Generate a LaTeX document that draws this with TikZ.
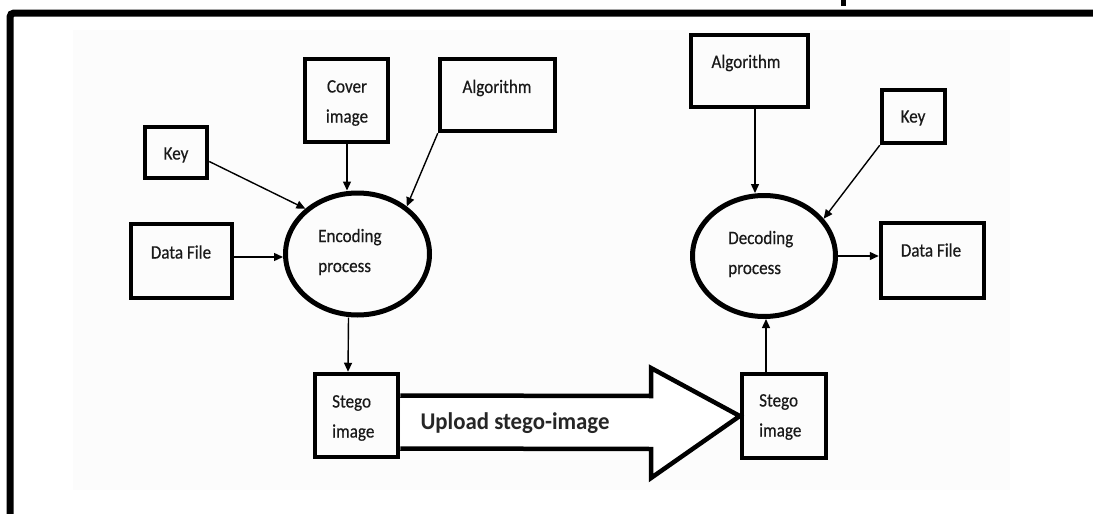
\documentclass[tikz,border=0pt]{standalone}
\usepackage{fontspec}
\newfontfamily\lab[FakeStretch=0.9,FakeBold=0.4]{Carlito}
\newfontfamily\labb[FakeStretch=0.95]{Carlito}
\usetikzlibrary{arrows.meta,shapes.geometric}
\begin{document}
\begin{tikzpicture}[x=1pt,y=-1pt,
  boxn/.style={draw,line width=4.5pt,inner sep=0pt},
  ell/.style={draw,ellipse,line width=5pt,inner sep=0pt},
  txt/.style={font=\lab\fontsize{19}{30}\selectfont,text=black!90,inner sep=0pt,align=center},
  txtl/.style={font=\lab\fontsize{19}{30}\selectfont,text=black!90,inner sep=0pt,align=left,anchor=west},
  arr/.style={line width=1.4pt,-{Triangle[length=9pt,width=8pt]}}]
\useasboundingbox (0,0) rectangle (1093,514);
\fill[white] (0,0) rectangle (1093,514);
\fill[black!1] (73,30) rectangle (1010,490);
% outer frame
\draw[line width=7pt,rounded corners=4pt] (10,514) -- (10,13) -- (1093,13);
\fill (841,0) rectangle (846,6);
% left side
\node[boxn,minimum width=62pt,minimum height=51pt] (kl) at (176,152.5) {};
\node[txt] (klt) at (176,155) {Key};
\node[boxn,minimum width=83pt,minimum height=83pt] (cov) at (346.5,100.5) {};
\node[txt] (covt) at (347,103) {Cover\\image};
\node[boxn,minimum width=115pt,minimum height=72pt] (algl) at (497.5,95) {};
\node[txt] (alglt) at (497,88) {Algorithm};
\node[boxn,minimum width=101pt,minimum height=74pt] (dl) at (181.5,261) {};
\node[txt] (dlt) at (181,252) {Data File};
\node[ell,minimum width=144pt,minimum height=122pt] (enc) at (357.5,254) {};
\node[txtl] (enct) at (318,252) {Encoding\\process};
\node[boxn,minimum width=83pt,minimum height=83pt] (sl) at (356.5,415.5) {};
\node[txtl] (slt) at (332,418) {Stego\\image};
% right side
\node[boxn,minimum width=117pt,minimum height=72pt] (algr) at (749.5,71) {};
\node[txt] (algrt) at (746,63) {Algorithm};
\node[boxn,minimum width=63pt,minimum height=53pt] (kr) at (913.5,116.5) {};
\node[txt] (krt) at (913,118) {Key};
\node[ell,minimum width=143pt,minimum height=121pt] (dec) at (764,256) {};
\node[txtl] (dect) at (728,254) {Decoding\\process};
\node[boxn,minimum width=103pt,minimum height=75pt] (dr) at (932.5,260.5) {};
\node[txt] (drt) at (931,250) {Data File};
\node[boxn,minimum width=84pt,minimum height=84pt] (sr) at (784,416) {};
\node[txtl] (srt) at (759,417) {Stego\\image};
% connectors
\draw[arr] ([yshift=-9pt]kl.east) -- (enc.139);
\draw[arr] ([xshift=0.5pt]cov.south) -- ([xshift=0.5pt]cov.south |- enc.north);
\draw[arr] (algl.south west) -- (enc.44);
\draw[arr] ([yshift=4pt]dl.east) -- ([yshift=4pt]dl.east -| enc.west);
\draw[arr] ([xshift=-9pt]enc.south) -- ([xshift=-8.5pt]sl.north);
\draw[arr] ([xshift=5.5pt]algr.south) -- ([xshift=5.5pt]algr.south |- dec.north);
\draw[arr] (kr.south west) -- (dec.32);
\draw[arr] (dec.east) -- (dec.east -| dr.west);
\draw[arr] ([xshift=-18pt]sr.north) -- ([xshift=-18pt]sr.north |- dec.south);
% big upload arrow
\draw[line width=4.5pt,line join=miter,fill=white]
  ([yshift=20pt]sl.east) -- (651,396) -- (651,368) -- (sr.west) -- (651,478) -- (651,449) -- ([yshift=-33pt]sl.east);
\node[font=\labb\bfseries\fontsize{24}{28}\selectfont,text=black!85,inner sep=0pt] (up) at (515,423) {Upload stego-image};
\end{tikzpicture}
\end{document}
